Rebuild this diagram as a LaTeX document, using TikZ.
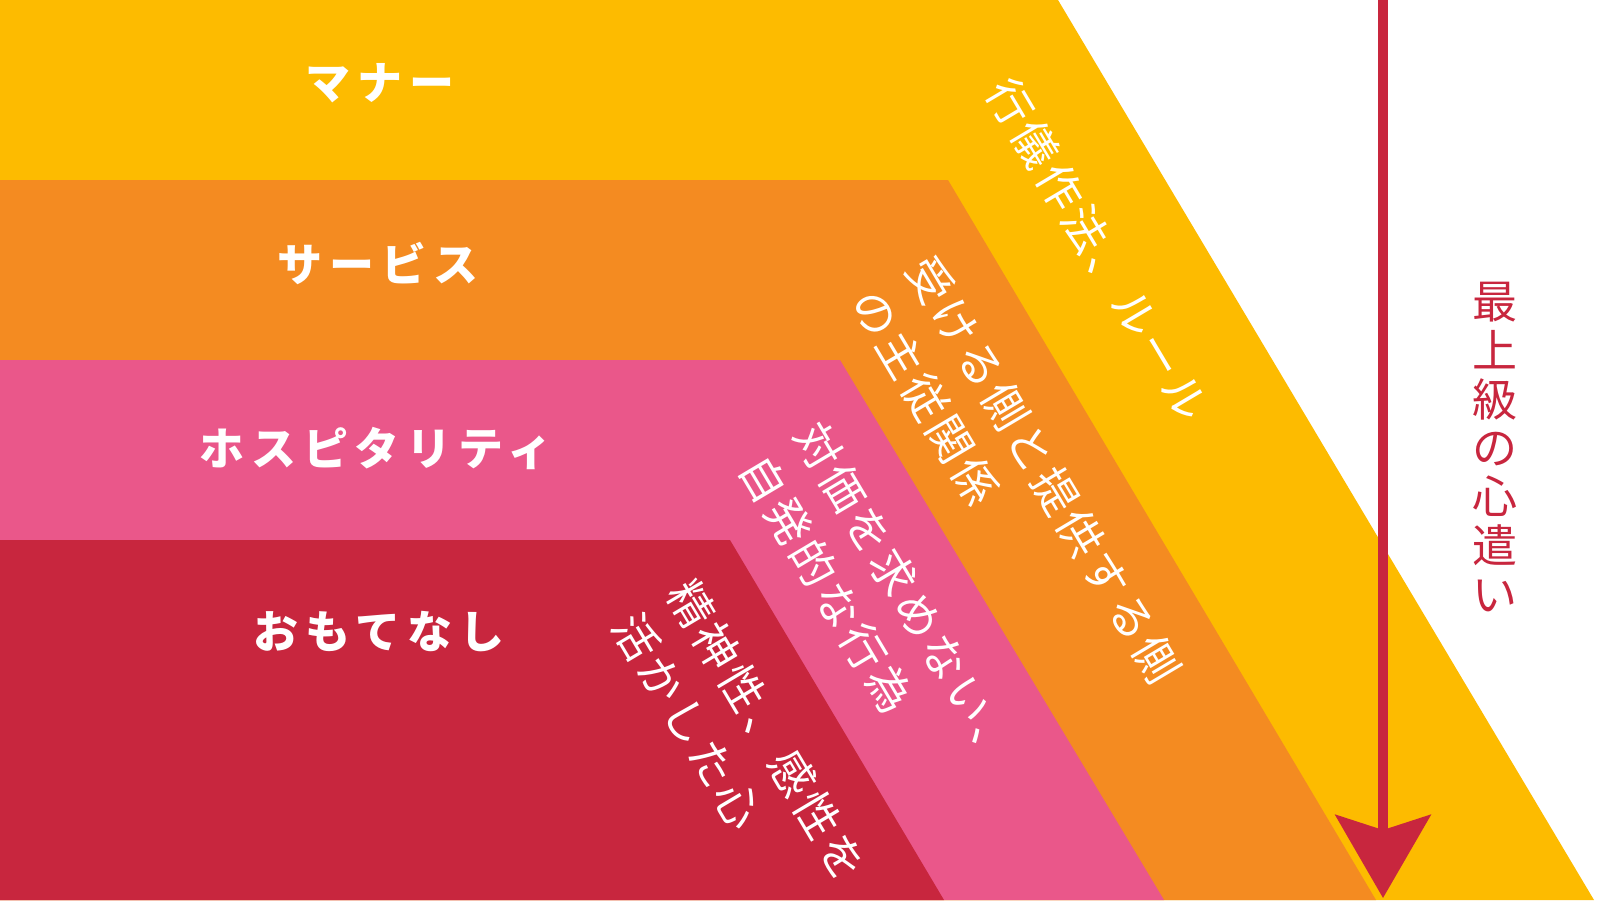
\documentclass[tikz,border=0pt]{standalone}
\usepackage{fontspec}
\usepackage{xcolor}
\usetikzlibrary{arrows.meta}
\newfontfamily\jpfont{Noto Sans CJK JP}
\definecolor{mannerYellow}{HTML}{FDBB00}
\definecolor{serviceOrange}{HTML}{F48B21}
\definecolor{hospPink}{HTML}{EA578A}
\definecolor{omoteRed}{HTML}{C8263E}
\tikzset{
  bandlabel/.style={text=white, inner sep=0pt,
    font=\jpfont\bfseries\addfontfeature{LetterSpace=15}\fontsize{45}{50}\selectfont},
  slantlabel/.style={text=white, inner sep=0pt, rotate=-59.25, align=left,
    font=\jpfont\addfontfeature{LetterSpace=9}\fontsize{45}{64}\selectfont}
}
\begin{document}
\begin{tikzpicture}[x=1pt,y=-1pt]
  \useasboundingbox (0,0) rectangle (1600,900);
  \fill[white] (0,0) rectangle (1600,900);

  % Draw the stacked bands
  \fill[mannerYellow]  (0,0)   -- (1058,0)  -- (1594,900) -- (0,900) -- cycle;
  \fill[serviceOrange] (0,180) -- (948,180) -- (1376,900) -- (0,900) -- cycle;
  \fill[hospPink]      (0,360) -- (840,360) -- (1164,900) -- (0,900) -- cycle;
  \fill[omoteRed]      (0,540) -- (730,540) -- (944,900)  -- (0,900) -- cycle;

  % Draw band names
  \node[bandlabel] (manner)  at (380,83)  {マナー};
  \node[bandlabel] (service) at (378,263) {サービス};
  \node[bandlabel] (hosp)    at (376,448) {ホスピタリティ};
  \node[bandlabel] (omote)   at (379,632) {おもてなし};

  % Draw slanted descriptions
  \node[slantlabel] (mannerText)  at (1098,250) {行儀作法、ルール};
  \node[slantlabel] (serviceText) at (1016,486) {受ける側と提供する側\\の主従関係};
  \node[slantlabel] (hospText)    at (879,610)  {対価を求めない、\\自発的な行為};
  \node[slantlabel] (omoteText)   at (740,747)  {精神性、感性を\\活かした心};

  % Draw the arrow and its label
  \coordinate (arrowTop) at (1383,0);
  \coordinate (arrowTip) at (1383,898);
  \draw[omoteRed, line width=10pt,
        -{Stealth[length=83pt, width=95pt, inset=15pt]}] (arrowTop) -- (arrowTip);
  \node[text=omoteRed, inner sep=0pt, align=center,
        font=\jpfont\fontsize{45}{48.8}\selectfont] (best) at (1495,447)
        {最\\上\\級\\の\\心\\遣\\い};
\end{tikzpicture}
\end{document}
